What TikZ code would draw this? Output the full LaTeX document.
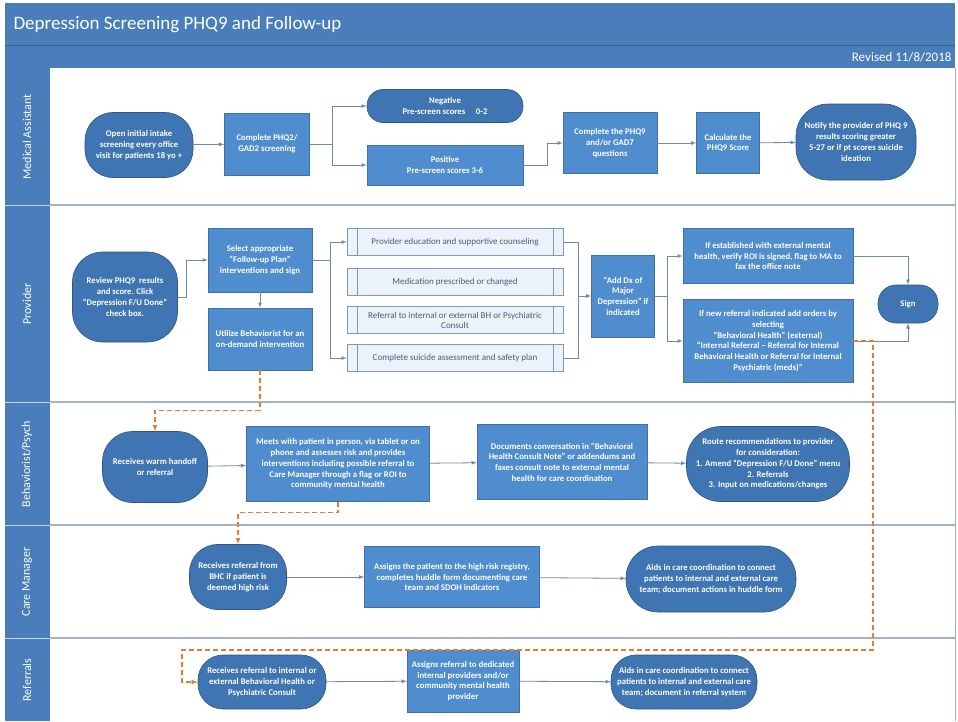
\documentclass[tikz,border=0pt]{standalone}
\usepackage{fontspec}
\setmainfont{Carlito}
\usetikzlibrary{positioning}
\definecolor{headblue}{RGB}{74,126,187}
\definecolor{headline}{RGB}{52,95,145}
\definecolor{boxfill}{RGB}{79,141,206}
\definecolor{boxline}{RGB}{65,113,160}
\definecolor{termfill}{RGB}{62,117,178}
\definecolor{termline}{RGB}{46,86,132}
\definecolor{optfill}{RGB}{236,242,250}
\definecolor{optline}{RGB}{128,152,184}
\definecolor{opttext}{RGB}{72,92,122}
\definecolor{flowline}{RGB}{108,138,178}
\definecolor{handorange}{RGB}{228,124,52}
\definecolor{laneline}{RGB}{160,178,204}
\begin{document}
\begin{tikzpicture}[x=1pt,y=-1pt,
  box/.style={draw=boxline, fill=boxfill, text=white, align=center, inner sep=1pt,
    line width=0.6pt, font=\fontsize{8.7}{10.7}\selectfont\bfseries},
  proc/.style={box, rectangle},
  term/.style={box, fill=termfill, draw=termline, rounded corners=#1},
  term/.default=16pt,
  opt/.style={draw=optline, fill=optfill, text=opttext, align=center, inner sep=1pt,
    line width=0.6pt, minimum width=216pt, minimum height=27pt,
    font=\fontsize{9}{10}\selectfont,
    path picture={
      \draw[optline, line width=0.6pt]
        ([xshift=10pt]path picture bounding box.north west) -- ([xshift=10pt]path picture bounding box.south west)
        ([xshift=-10pt]path picture bounding box.north east) -- ([xshift=-10pt]path picture bounding box.south east);}},
  flow/.style={draw=flowline, line width=0.8pt, -latex},
  link/.style={draw=flowline, line width=0.8pt},
  hand/.style={draw=handorange, line width=1.1pt, dash pattern=on 5pt off 3pt, -latex},
  swim/.style={draw=laneline, line width=1.5pt},
  lanetext/.style={text=white, rotate=90, font=\fontsize{12}{13}\selectfont}]
\useasboundingbox (0,0) rectangle (958,721);
\fill[white] (0,0) rectangle (958,721);
%
% header and lanes
\fill[headblue] (5,3) rectangle (955,68);
\draw[headline, line width=0.8pt] (5,45) -- (955,45);
\node[anchor=west, text=white, font=\fontsize{19}{21}\selectfont] (title) at (10,25) {Depression Screening PHQ9 and Follow-up};
\node[anchor=east, text=white, font=\fontsize{13}{15}\selectfont] (rev) at (955,57) {Revised 11/8/2018};
\fill[headblue] (5,68) rectangle (50,721);
\foreach \y in {205,402,525,638}{
  \draw[swim] (50,\y) -- (955,\y);
  \draw[white!70!headblue, line width=1pt] (5,\y) -- (50,\y);
}
\draw[laneline, line width=0.8pt] (955,68) -- (955,721);
\node[lanetext] (lma) at (27,137) {Medical Assistant};
\node[lanetext] (lpr) at (27,304) {Provider};
\node[lanetext] (lbp) at (27,464) {Behaviorist/Psych};
\node[lanetext] (lcm) at (27,582) {Care Manager};
\node[lanetext] (lre) at (27,680) {Referrals};
%
% medical assistant
\node[term=28pt, minimum width=108pt, minimum height=65pt] (intake) at (139,145) {Open initial intake\\screening every office\\visit for patients 18 yo +};
\node[proc, minimum width=85pt, minimum height=62pt] (phqtwo) at (267,144) {Complete PHQ2/\\GAD2 screening};
\node[term=16pt, minimum width=156pt, minimum height=33pt] (neg) at (445,106) {Negative\\Pre-screen scores \quad 0-2};
\node[proc, minimum width=156pt, minimum height=40pt] (pos) at (445,165) {Positive\\Pre-screen scores 3-6};
\node[proc, minimum width=94pt, minimum height=61pt] (phqnine) at (610,143) {Complete the PHQ9\\and/or GAD7\\questions};
\node[proc, minimum width=63pt, minimum height=61pt] (calc) at (728,143) {Calculate the\\PHQ9 Score};
\node[term=32pt, minimum width=120pt, minimum height=76pt] (notify) at (856,142) {Notify the provider of PHQ 9\\results scoring greater\\5-27 or if pt scores suicide\\ideation};
\draw[flow] (intake) -- (phqtwo);
\draw[flow] (phqtwo.east) -- ++(23,0) coordinate (mj) |- (neg);
\draw[flow] (mj) |- (pos);
\draw[flow] (pos.east) -- ++(24,0) |- (phqnine);
\draw[flow] (phqnine) -- (calc);
\draw[flow] (calc) -- (notify);
%
% provider
\node[term=30pt, minimum width=105pt, minimum height=90pt] (review) at (125,297) {Review PHQ9 \ results\\and score. Click\\“Depression F/U Done”\\check box.};
\node[proc, minimum width=104pt, minimum height=64pt] (select) at (260,260) {Select appropriate\\“Follow-up Plan”\\interventions and sign};
\node[proc, minimum width=104pt, minimum height=62pt] (behav) at (260,339) {Utilize Behaviorist for an\\on-demand intervention};
\node[opt] (educ) at (455,242) {Provider education and supportive counseling};
\node[opt] (meds) at (455,282) {Medication prescribed or changed};
\node[opt] (refbh) at (455,320) {Referral to internal or external BH or Psychiatric\\Consult};
\node[opt] (suic) at (455,358) {Complete suicide assessment and safety plan};
\node[proc, minimum width=63pt, minimum height=82pt] (adddx) at (623,296) {“Add Dx of\\Major\\Depression” if\\indicated};
\node[proc, minimum width=170pt, minimum height=55pt] (estab) at (768,256) {If established with external mental\\health, verify ROI is signed, flag to MA to\\fax the office note};
\node[proc, minimum width=170pt, minimum height=83pt] (newref) at (768,341) {If new referral indicated add orders by\\selecting\\“Behavioral Health” (external)\\“Internal Referral – Referral for Internal\\Behavioral Health or Referral for Internal\\Psychiatric (meds)”};
\node[term=18pt, minimum width=60pt, minimum height=38pt] (sign) at (908,304) {Sign};
\draw[flow] (review.east) -- ++(9,0) |- (select);
\draw[flow] (select) -- (behav);
\draw[flow] (select.east) -- ++(18,0) coordinate (pj) |- (educ);
\draw[flow] (pj) |- (suic);
\coordinate (oj) at (578,296);
\draw[link] (educ.east) -| (oj);
\draw[link] (suic.east) -| (oj);
\draw[flow] (oj) -- (adddx);
\draw[flow] (adddx.east) -- ++(13,0) coordinate (dj) |- (estab);
\draw[flow] (dj) |- (newref);
\draw[flow] (estab.east) -| (sign);
\draw[flow] (newref.east) -| (sign);
%
% behaviorist / psych
\node[term=30pt, minimum width=105pt, minimum height=71pt] (warm) at (155,467) {Receives warm handoff\\or referral};
\node[proc, minimum width=183pt, minimum height=75pt] (meets) at (338,464) {Meets with patient in person, via tablet or on\\phone and assesses risk and provides\\interventions including possible referral to\\Care Manager through a flag or ROI to\\community mental health};
\node[proc, minimum width=170pt, minimum height=75pt] (docs) at (562,462) {Documents conversation in “Behavioral\\Health Consult Note” or addendums and\\faxes consult note to external mental\\health for care coordination};
\node[term=34pt, minimum width=163pt, minimum height=75pt] (route) at (768,464) {Route recommendations to provider\\for consideration:\\1. Amend “Depression F/U Done” menu\\2. Referrals\\3. Input on medications/changes};
\draw[flow] (warm) -- (meets);
\draw[flow] (meets) -- (docs);
\draw[flow] (docs) -- (route);
%
% care manager
\node[term=28pt, minimum width=97pt, minimum height=65pt] (bhc) at (238,577) {Receives referral from\\BHC if patient is\\deemed high risk};
\node[proc, minimum width=175pt, minimum height=61pt] (registry) at (452,577) {Assigns the patient to the high risk registry,\\completes huddle form documenting care\\team and SDOH indicators};
\node[term=32pt, minimum width=170pt, minimum height=66pt] (aids) at (711,579) {Aids in care coordination to connect\\patients to internal and external care\\team; document actions in huddle form};
\draw[flow] (bhc) -- (registry);
\draw[flow] (registry) -- (aids);
%
% referrals
\node[term=25pt, minimum width=128pt, minimum height=54pt] (refin) at (262,682) {Receives referral to internal or\\external Behavioral Health or\\Psychiatric Consult};
\node[proc, minimum width=112pt, minimum height=62pt] (assign) at (463,681) {Assigns referral to dedicated\\internal providers and/or\\community mental health\\provider};
\node[term=25pt, minimum width=146pt, minimum height=54pt] (aidsref) at (684,682) {Aids in care coordination to connect\\patients to internal and external care\\team; document in referral system};
\draw[flow] (refin) -- (assign);
\draw[flow] (assign) -- (aidsref);
%
% warm handoffs
\draw[hand] (behav.south) -- ++(0,40) -| (warm);
\draw[hand] (meets.south) -- ++(0,11) -| (bhc);
\coordinate (hr) at (873,650);
\coordinate (hl) at (182,650);
\draw[hand] (newref.east) -| (hr) -- (hl) |- (refin);
\end{tikzpicture}
\end{document}
